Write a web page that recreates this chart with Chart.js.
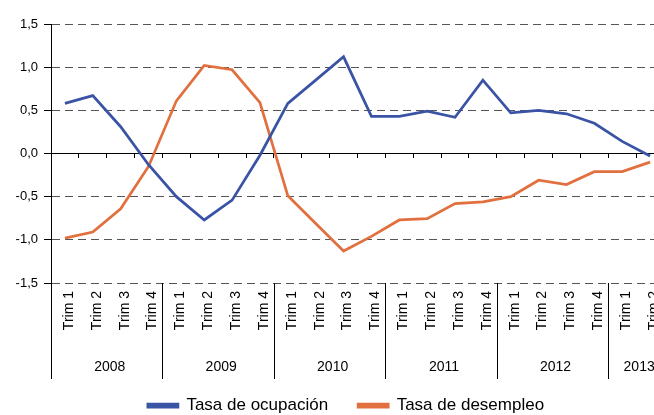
<!DOCTYPE html>
<html>
<head>
<meta charset="utf-8">
<script src="https://cdn.jsdelivr.net/npm/chart.js@4"></script>
<style>
  html, body { margin: 0; padding: 0; background: #fff; overflow: hidden; }
  #wrap { position: relative; width: 692px; height: 424px; }
</style>
</head>
<body>
<div id="wrap"><canvas id="myChart"></canvas></div>
<script>
  // trimestres 2008 T1 .. 2013 T2
  const trimLabels = [
    'Trim 1', 'Trim 2', 'Trim 3', 'Trim 4',
    'Trim 1', 'Trim 2', 'Trim 3', 'Trim 4',
    'Trim 1', 'Trim 2', 'Trim 3', 'Trim 4',
    'Trim 1', 'Trim 2', 'Trim 3', 'Trim 4',
    'Trim 1', 'Trim 2', 'Trim 3', 'Trim 4',
    'Trim 1', 'Trim 2'
  ];
  const years = ['2008', '2009', '2010', '2011', '2012', '2013'];
  const yearCounts = [4, 4, 4, 4, 4, 2];

  const ocupacion = [0.58, 0.67, 0.31, -0.13, -0.50, -0.77, -0.54, -0.02, 0.58, 0.85, 1.12,
                     0.43, 0.43, 0.49, 0.42, 0.85, 0.47, 0.50, 0.46, 0.35, 0.14, -0.03];
  const desempleo = [-0.98, -0.91, -0.64, -0.15, 0.61, 1.02, 0.97, 0.59, -0.49, -0.81, -1.13,
                     -0.96, -0.77, -0.755, -0.58, -0.56, -0.50, -0.31, -0.36, -0.21, -0.21, -0.10];

  const yTicks = [-1.5, -1.0, -0.5, 0, 0.5, 1.0, 1.5];

  const FONT = "'Liberation Sans', Arial, sans-serif";

  // separadores de años y etiquetas de año bajo los trimestres
  const yearAxisPlugin = {
    id: 'yearAxis',
    afterDraw(chart) {
      const xs = chart.scales.x;
      const ctx = chart.ctx;
      const half = (xs.getPixelForValue(1) - xs.getPixelForValue(0)) / 2;
      const top = chart.chartArea.bottom;
      ctx.save();
      ctx.strokeStyle = '#000';
      ctx.lineWidth = 1;
      ctx.fillStyle = '#000';
      ctx.font = '14px ' + FONT;
      ctx.textAlign = 'center';
      ctx.textBaseline = 'middle';
      let idx = 0;
      years.forEach((yr, i) => {
        const first = idx;
        const last = idx + yearCounts[i] - 1;
        const xLine = Math.round(xs.getPixelForValue(first) - half) + 0.5;
        ctx.beginPath();
        ctx.moveTo(xLine, top);
        ctx.lineTo(xLine, top + 96);
        ctx.stroke();
        const cx = (xs.getPixelForValue(first) + xs.getPixelForValue(last)) / 2;
        ctx.fillText(yr, cx + 3, top + 84);
        idx += yearCounts[i];
      });
      ctx.restore();
    }
  };

  const ctx = document.getElementById('myChart').getContext('2d');
  new Chart(ctx, {
    type: 'line',
    data: {
      labels: trimLabels,
      datasets: [
        {
          label: 'Tasa de ocupación',
          data: ocupacion,
          borderColor: '#3A53A5',
          backgroundColor: '#3A53A5',
          borderWidth: 2.75,
          pointRadius: 0,
          tension: 0,
          xAxisID: 'x'
        },
        {
          label: 'Tasa de desempleo',
          data: desempleo,
          borderColor: '#E2703F',
          backgroundColor: '#E2703F',
          borderWidth: 2.75,
          pointRadius: 0,
          tension: 0,
          xAxisID: 'x'
        }
      ]
    },
    options: {
      responsive: true,
      maintainAspectRatio: false,
      animation: false,
      layout: { padding: { left: 0, right: 0, top: 24, bottom: 0 } },
      plugins: {
        legend: {
          position: 'bottom',
          labels: {
            boxWidth: 30,
            boxHeight: 3,
            padding: 30,
            color: '#000',
            font: { family: FONT, size: 17 }
          }
        },
        tooltip: { enabled: false }
      },
      scales: {
        y: {
          min: -1.5,
          max: 1.5,
          afterFit(s) { s.width = 51; },
          afterBuildTicks(s) { s.ticks = yTicks.map(v => ({ value: v })); },
          ticks: {
            padding: 6,
            color: '#000',
            font: { family: FONT, size: 13 },
            callback: v => v.toFixed(1).replace('.', ',')
          },
          grid: {
            color: c => (c.tick && c.tick.value === 0) ? '#000' : '#555',
            lineWidth: 1,
            drawTicks: true,
            tickLength: 7,
            tickColor: '#000',
            tickBorderDash: []
          },
          border: {
            display: true,
            color: '#000',
            width: 1,
            dash: c => (c.tick && c.tick.value === 0) ? [] : [8, 5]
          }
        },
        // margen derecho: el área del gráfico continúa fuera de la ventana
        yr: {
          type: 'linear',
          position: 'right',
          afterFit(s) { s.width = 28; },
          ticks: { display: false },
          grid: { display: false, drawTicks: false },
          border: { display: false }
        },
        x: {
          type: 'category',
          position: { y: 0 },
          offset: true,
          ticks: { display: false },
          grid: {
            drawOnChartArea: false,
            drawTicks: true,
            tickLength: 4,
            offset: true,
            color: '#000',
            tickColor: '#000'
          },
          border: { display: true, color: '#000', width: 1 }
        },
        xb: {
          type: 'category',
          labels: trimLabels,
          position: 'bottom',
          offset: true,
          afterFit(s) { s.height = 84; },
          grid: { display: false, drawTicks: false },
          border: { display: false },
          ticks: {
            autoSkip: false,
            minRotation: 90,
            maxRotation: 90,
            padding: 8,
            labelOffset: 4,
            color: '#000',
            font: { family: FONT, size: 14 }
          }
        }
      }
    },
    plugins: [yearAxisPlugin]
  });
</script>
</body>
</html>
